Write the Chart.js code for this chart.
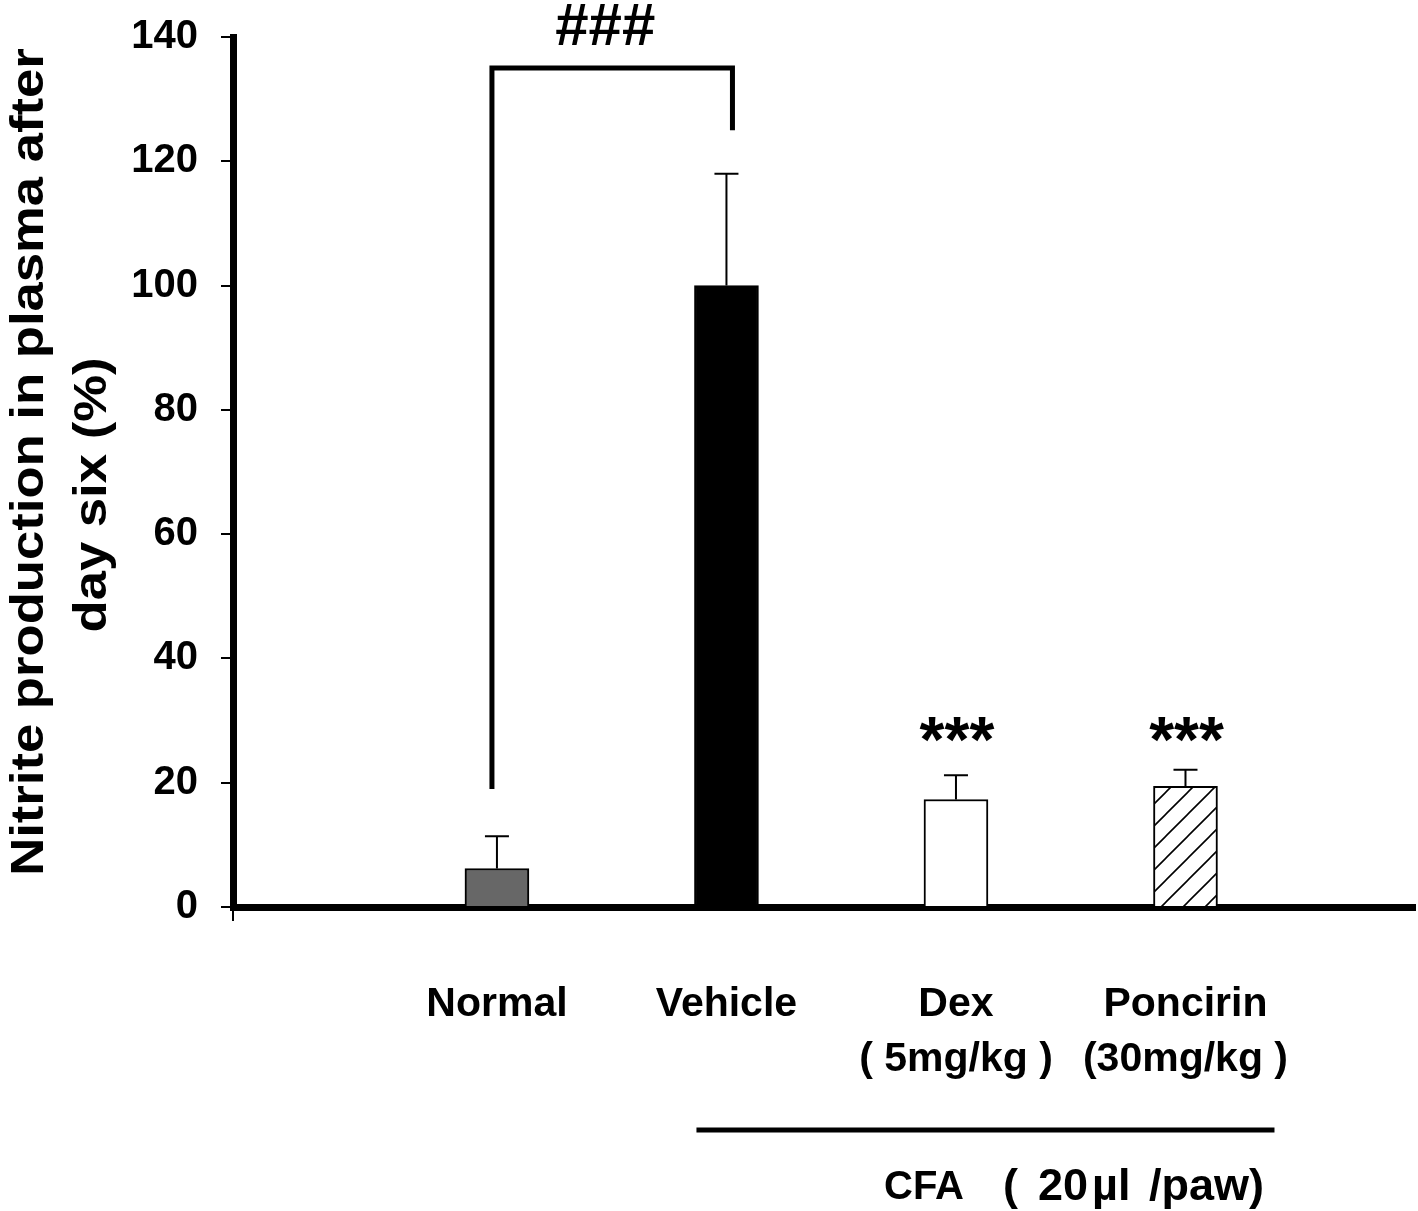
<!DOCTYPE html>
<html>
<head>
<meta charset="utf-8">
<script src="https://cdn.jsdelivr.net/npm/chart.js@4.4.0/dist/chart.umd.min.js"></script>
<style>
  html, body { margin: 0; padding: 0; background: #fff; }
  #wrap { width: 1418px; height: 1211px; }
</style>
</head>
<body>
<div id="wrap"><canvas id="nitriteChart" width="1418" height="1211"></canvas></div>
<script>
// data
const groups = ['Normal', 'Vehicle', 'Dex', 'Poncirin'];
const doses = ['', '', '( 5mg/kg )', '(30mg/kg )'];
const means = [6.2, 100, 17.3, 19.4];
const errors = [5.2, 18.0, 3.9, 2.7];
const stars = ['', '', '***', '***'];
const starLevel = 28;
const yTicks = [0, 20, 40, 60, 80, 100, 120, 140];
const bracketLevels = [19, 135, 125]; // left foot, top, right foot
const bracketLabel = '###';
const yTitle = ['Nitrite production in plasma after', 'day six (%)'];
const cfaParts = ['CFA', '(', '20', '\u00b5l', '/paw)'];

const FONT = "'Liberation Sans', Arial, sans-serif";

// hatched fill for Poncirin
function makeHatch() {
    const s = 22;
    const c = document.createElement('canvas');
    c.width = s; c.height = s;
    const g = c.getContext('2d');
    g.fillStyle = '#fff';
    g.fillRect(0, 0, s, s);
    g.strokeStyle = '#000';
    g.lineWidth = 1.6;
    g.beginPath();
    g.moveTo(0, s); g.lineTo(s, 0);
    g.moveTo(-s / 2, s / 2); g.lineTo(s / 2, -s / 2);
    g.moveTo(s / 2, s * 1.5); g.lineTo(s * 1.5, s / 2);
    g.stroke();
    return g.createPattern(c, 'repeat');
}

const ctx = document.getElementById('nitriteChart').getContext('2d');
const fills = ['#676767', '#000000', '#ffffff', makeHatch()];

// error bars, significance marks, bracket, CFA line, y title
const extras = {
    id: 'extras',
    afterDatasetsDraw(chart) {
        const c = chart.ctx;
        const xs = chart.scales.x, ys = chart.scales.y;
        c.save();
        c.strokeStyle = '#000';
        c.fillStyle = '#000';

        // error bars (upper half only)
        c.lineWidth = 2;
        means.forEach((m, i) => {
            const x = xs.getPixelForValue(i + 1);
            const y0 = ys.getPixelForValue(m);
            const y1 = ys.getPixelForValue(m + errors[i]);
            c.beginPath();
            c.moveTo(x, y0); c.lineTo(x, y1);
            c.moveTo(x - 12, y1); c.lineTo(x + 12, y1);
            c.stroke();
            if (stars[i]) {
                c.font = 'bold 64px ' + FONT;
                c.textAlign = 'center';
                c.textBaseline = 'alphabetic';
                c.fillText(stars[i], x + 1, ys.getPixelForValue(starLevel) + 29);
            }
        });

        // bracket Normal -> Vehicle
        const bx1 = xs.getPixelForValue(1) - 5;
        const bx2 = xs.getPixelForValue(2) + 6;
        c.lineWidth = 5;
        c.lineJoin = 'miter';
        c.beginPath();
        c.moveTo(bx1, ys.getPixelForValue(bracketLevels[0]));
        c.lineTo(bx1, ys.getPixelForValue(bracketLevels[1]));
        c.lineTo(bx2, ys.getPixelForValue(bracketLevels[1]));
        c.lineTo(bx2, ys.getPixelForValue(bracketLevels[2]));
        c.stroke();
        c.font = 'bold 60px ' + FONT;
        c.textAlign = 'center';
        c.textBaseline = 'alphabetic';
        c.fillText(bracketLabel, (bx1 + bx2) / 2 - 7, ys.getPixelForValue(bracketLevels[1]) - 23);

        // CFA group line and label
        const lx1 = xs.getPixelForValue(2) - 30;
        const lx2 = xs.getPixelForValue(4) + 89;
        c.lineWidth = 5;
        c.beginPath();
        c.moveTo(lx1, 1130); c.lineTo(lx2, 1130);
        c.stroke();
        c.textAlign = 'left';
        c.textBaseline = 'middle';
        const partX = [884, 1003, 1038, 1092, 1149];
        cfaParts.forEach((t, k) => {
            c.font = 'bold ' + (k === 0 ? 40 : 45) + 'px ' + FONT;
            c.fillText(t, partX[k], 1188);
        });

        // y axis title, two rotated lines
        c.font = 'bold 47px ' + FONT;
        c.textAlign = 'center';
        [[30, 462], [93, 495]].forEach((p, k) => {
            c.save();
            c.translate(p[0], p[1]);
            c.rotate(-Math.PI / 2);
            c.scale(1.12, 1);
            c.fillText(yTitle[k], 0, 0);
            c.restore();
        });
        c.restore();
    }
};

new Chart(ctx, {
    type: 'bar',
    data: {
        datasets: [{
            data: means.map((m, i) => ({ x: i + 1, y: m })),
            backgroundColor: fills,
            borderColor: '#000',
            borderWidth: 2,
            barThickness: 64,
            borderSkipped: 'bottom'
        }]
    },
    options: {
        responsive: false,
        animation: false,
        layout: { padding: { left: 0, top: 37, right: 3, bottom: 0 } },
        plugins: { legend: { display: false }, tooltip: { enabled: false } },
        scales: {
            x: {
                type: 'linear',
                min: -0.15,
                max: 5.0,
                offset: false,
                z: 1,
                afterBuildTicks: (axis) => {
                    axis.ticks = [{ value: axis.min }].concat(groups.map((g, i) => ({ value: i + 1 })));
                },
                afterFit: (axis) => {
                    axis.height = 1211 - 907;
                    axis.paddingLeft = 0; axis.paddingRight = 0;
                },
                border: { display: true, color: '#000', width: 7 },
                grid: {
                    offset: false,
                    drawOnChartArea: false,
                    drawTicks: true,
                    tickLength: 14,
                    lineWidth: 2,
                    color: (c) => c.index === 0 ? '#000' : 'rgba(0,0,0,0)'
                },
                ticks: {
                    autoSkip: false,
                    maxRotation: 0,
                    padding: 56,
                    color: '#000',
                    font: { family: FONT, size: 41, weight: 'bold', lineHeight: 1.34 },
                    callback: (value) => {
                        const i = Math.round(value) - 1;
                        if (Math.abs(value - (i + 1)) > 1e-6 || i < 0 || i >= groups.length) return '';
                        return doses[i] ? [groups[i], doses[i]] : groups[i];
                    }
                }
            },
            y: {
                min: 0,
                max: 140,
                z: 1,
                afterBuildTicks: (axis) => { axis.ticks = yTicks.map(v => ({ value: v })); },
                afterFit: (axis) => {
                    axis.width = 233;
                    axis.paddingTop = 0; axis.paddingBottom = 0;
                },
                border: { display: true, color: '#000', width: 7 },
                grid: {
                    drawOnChartArea: false,
                    drawTicks: true,
                    tickLength: 12,
                    lineWidth: 2,
                    color: '#000'
                },
                ticks: {
                    padding: 23,
                    color: '#000',
                    font: { family: FONT, size: 40, weight: 'bold' }
                }
            }
        }
    },
    plugins: [extras]
});
</script>
</body>
</html>
